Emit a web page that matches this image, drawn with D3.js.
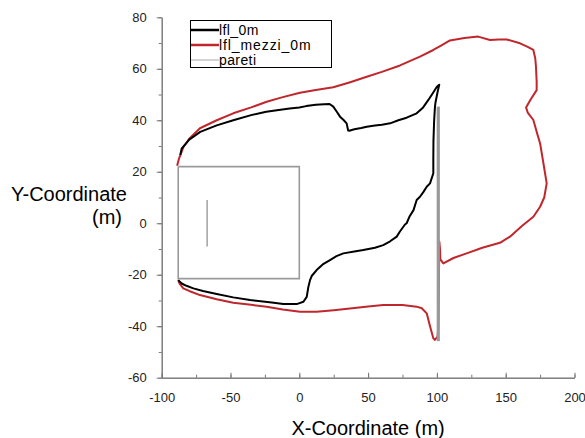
<!DOCTYPE html>
<html>
<head>
<meta charset="utf-8">
<script src="https://cdn.jsdelivr.net/npm/d3@7"></script>
<style>
  body { margin: 0; background: #fff; }
  svg { display: block; font-family: "Liberation Sans", Arial, Helvetica, sans-serif; }
</style>
</head>
<body>
<svg id="chart" width="585" height="438"></svg>
<script>
// ---- data ----
const xTicks = [-100, -50, 0, 50, 100, 150, 200];
const yTicks = [-60, -40, -20, 0, 20, 40, 60, 80];
const seriesNames = ["lfl_0m", "lfl_mezzi_0m", "pareti"];

const lflX = [-86.5,-85.5,-80,-72,-60,-48,-35,-24,-15,-7,0,5,12,18,22,24.7,27,29.6,32,34.4,35.5,36.3,40,45,49,55,60,66,72,78,85.3,90,93.8,97,100,101.7,100.5,99,98.6,98,97.5,97.4,97.4,95,92.6,90,87.7,85.3,83,80,78,76.8,73,70.8,66,61,55,46.5,40,32,27,22.3,17,12.6,9,7.8,6.5,5.4,3,-1.9,-11.6,-20,-35.8,-48,-60,-70,-77,-82,-85.5,-88];
const lflY = [26.5,29,32.5,35.5,38,40,42,43.3,44,44.6,45,45.5,46,46.2,46.3,45.3,43.5,41.4,40.2,38.8,36,35.9,36.5,37,37.5,38,38.3,38.8,40,41,42.7,45,47.9,50.5,53,53.8,51,47,45.3,40,32,25,19.4,15.5,14.2,12,10.3,9,5.1,2.5,0,-0.5,-3.3,-5.2,-7,-8.5,-9.5,-10.4,-11,-11.7,-12.8,-14.3,-16,-18.2,-20.5,-22.1,-25,-28.6,-30.5,-31.4,-31.4,-30.8,-29.8,-28.8,-27.5,-26.3,-25.3,-24.3,-23.4,-22.1];

const mezziX = [-88.8,-87.5,-84.3,-80,-72.2,-60,-48,-35,-23.7,-12,0.5,12,24.7,37,49,60,73.2,87.7,97.4,103,109.5,120,130,138.6,145,150.7,160.4,166,170.1,171.5,172,172.5,172.5,168,164.8,166,170.1,172.5,175,177.5,179.8,178,175,170.1,162,153.1,145.8,133,121.6,112,104.7,102.5,102.3,101.8,101.5,101,100.5,98.5,97.4,95,92.6,89,85.3,75,61,50,36.8,25,12.6,0.5,-12,-23.7,-35,-48,-60,-72.2,-80,-84.3,-87,-88];
const mezziY = [22.3,25,29.5,32.8,36.9,40,42.7,45,47.2,49,50.7,51.8,52.8,54.8,56.9,58.8,61.3,64.7,67.3,69,71,72,72.5,71.2,71.4,71.4,69.9,68.5,67.3,64,60.8,55,51.7,48,45,43,40.1,35.5,31,23,15.5,10,6.4,2.5,-1,-5.2,-7.6,-9.5,-11.7,-13.5,-15.6,-14,-10.4,-7.2,-20,-40,-44,-45.3,-44.7,-40,-35,-33,-32.4,-31.8,-31.8,-32.3,-33.1,-33.8,-34.4,-34.4,-33.5,-32.4,-31.7,-30.9,-29.5,-27.9,-26.3,-25.3,-23.5,-22.1];

// walls (pareti): rectangle corners, inner segment, long wall
const rectX = [-88, 0, 0, -88, -88];
const rectY = [22, 22, -21.5, -21.5, 22];
const innerX = [-67, -67];
const innerY = [9, -9];
const wallX = [101, 101];
const wallY = [45.3, -45.8];

// ---- drawing ----
const svg = d3.select("#chart");
const x = d3.scaleLinear().domain([-100, 200]).range([161.7, 574.5]);
const y = d3.scaleLinear().domain([-60, 80]).range([377.7, 17.3]);

const axisColor = "#777";
const textColor = "#222";

// minor ticks
const gxMinor = svg.append("g").attr("transform", `translate(0,${y(-60)})`)
  .call(d3.axisBottom(x).tickValues(d3.range(-100, 201, 25)).tickSize(-3).tickSizeOuter(0).tickFormat(""));
const gyMinor = svg.append("g").attr("transform", `translate(${x(-100)},0)`)
  .call(d3.axisLeft(y).tickValues(d3.range(-60, 81, 10)).tickSize(3).tickSizeOuter(0).tickFormat(""));

const gx = svg.append("g").attr("transform", `translate(0,${y(-60)})`)
  .call(d3.axisBottom(x).tickValues(xTicks).tickSize(-5).tickSizeOuter(0).tickPadding(15).tickFormat(d3.format("d")));
const gy = svg.append("g").attr("transform", `translate(${x(-100)},0)`)
  .call(d3.axisLeft(y).tickValues(yTicks).tickSize(5).tickSizeOuter(0).tickPadding(10).tickFormat(d3.format("d")));

[gxMinor, gyMinor, gx, gy].forEach(g => {
  g.selectAll("path.domain").attr("stroke", axisColor);
  g.selectAll(".tick line").attr("stroke", axisColor);
  g.selectAll("text").attr("fill", textColor).style("font-size", "13px")
    .style("font-family", "'Liberation Sans', Arial, sans-serif").text(function() { return d3.select(this).text().replace("−", "-"); });
});

const line = d3.line().x(d => x(d[0])).y(d => y(d[1]));
const zip = (a, b) => a.map((v, i) => [v, b[i]]);

// walls
svg.append("path").attr("d", line(zip(rectX, rectY))).attr("fill", "none").attr("stroke", "#9a9a9a").attr("stroke-width", 1.6);
svg.append("path").attr("d", line(zip(innerX, innerY))).attr("fill", "none").attr("stroke", "#9a9a9a").attr("stroke-width", 1.4);

// series
svg.append("path").attr("d", line(zip(mezziX, mezziY))).attr("fill", "none").attr("stroke", "#c0272d").attr("stroke-width", 2).attr("stroke-linejoin", "round");
svg.append("path").attr("d", line(zip(lflX, lflY))).attr("fill", "none").attr("stroke", "#000").attr("stroke-width", 2).attr("stroke-linejoin", "round");

// long wall on top
svg.append("path").attr("d", line(zip(wallX, wallY))).attr("fill", "none").attr("stroke", "#999").attr("stroke-width", 3.2);

// legend
const lg = svg.append("g");
lg.append("rect").attr("x", 190.5).attr("y", 20.5).attr("width", 141).attr("height", 47)
  .attr("fill", "#fff").attr("stroke", "#000").attr("stroke-width", 1);
const legColors = ["#000", "#c0272d", "#aaa"];
const legWidths = [2.5, 2.5, 1];
const legY = [30, 45, 60];
seriesNames.forEach((n, i) => {
  lg.append("line").attr("x1", 191).attr("x2", 219).attr("y1", legY[i]).attr("y2", legY[i])
    .attr("stroke", legColors[i]).attr("stroke-width", legWidths[i]);
  lg.append("text").attr("x", 219).attr("y", legY[i] + 5).text(n)
    .style("font-size", "14px").style("letter-spacing", i === 1 ? "0.9px" : "0.4px").attr("fill", "#000");
});

// axis titles
svg.append("text").attr("x", x(50)).attr("y", 435).attr("text-anchor", "middle")
  .style("font-size", "20px").attr("fill", "#000").text("X-Coordinate (m)");
svg.append("text").attr("x", 127).attr("y", 201).attr("text-anchor", "end")
  .style("font-size", "20px").attr("fill", "#000").text("Y-Coordinate");
svg.append("text").attr("x", 122).attr("y", 224).attr("text-anchor", "end")
  .style("font-size", "20px").attr("fill", "#000").text("(m)");
</script>
</body>
</html>
